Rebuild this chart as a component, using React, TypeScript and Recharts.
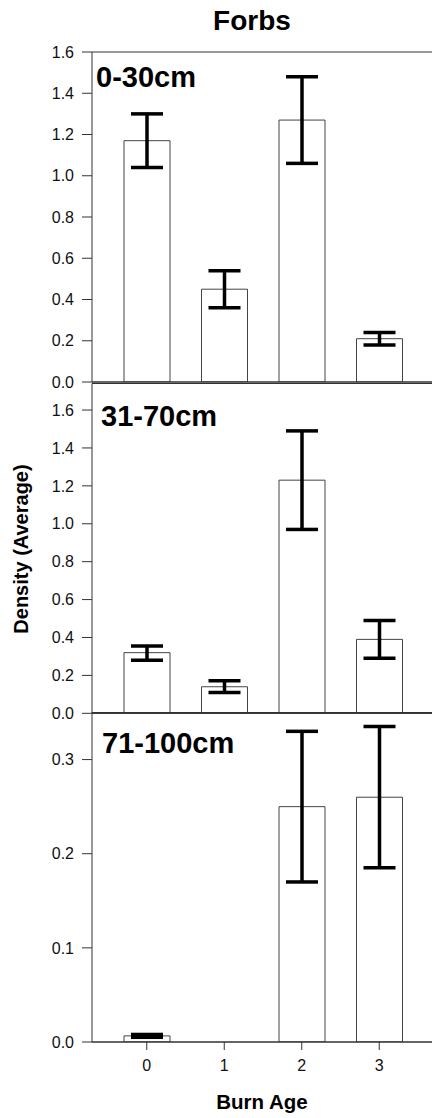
import { BarChart, Bar, XAxis, YAxis, ErrorBar, ReferenceLine } from 'recharts'

const AGES = ['0', '1', '2', '3']

// mean density per burn age, and error as [minus, plus]
const SHALLOW = [1.17, 0.45, 1.27, 0.21]
const SHALLOW_ERR: [number, number][] = [[0.13, 0.13], [0.09, 0.09], [0.21, 0.21], [0.03, 0.03]]

const MID = [0.32, 0.14, 1.23, 0.39]
const MID_ERR: [number, number][] = [[0.04, 0.035], [0.03, 0.032], [0.26, 0.26], [0.1, 0.1]]

const DEEP = [0.0065, 0, 0.25, 0.26]
const DEEP_ERR: [number, number][] = [[0.0015, 0.0015], [0, 0], [0.08, 0.08], [0.075, 0.075]]

const TICKS_16 = [0, 0.2, 0.4, 0.6, 0.8, 1.0, 1.2, 1.4, 1.6]
const TICKS_03 = [0, 0.1, 0.2, 0.3]

const FONT = '"Liberation Sans", Arial, sans-serif'
const AXIS = '#333'
const tickStyle = { fill: '#111', fontSize: 16, fontFamily: FONT }

interface PanelProps {
  values: number[]
  errors: [number, number][]
  yMax: number
  ticks: number[]
  top: number
  height: number
  margin: { top: number; bottom: number }
  showX?: boolean
}

function Panel({ values, errors, yMax, ticks, top, height, margin, showX }: PanelProps) {
  const data = AGES.map((age, i) => ({ age, value: values[i], err: errors[i] }))
  return (
    <div style={{ position: 'absolute', left: 0, top, width: 432, height }}>
      <BarChart
        width={432}
        height={height}
        data={data}
        margin={{ top: margin.top, bottom: margin.bottom, left: 0, right: 0 }}
        barSize={46}
        style={{ overflow: 'visible' }}
      >
        <XAxis
          dataKey="age"
          padding={{ left: 16, right: 14 }}
          axisLine={{ stroke: AXIS }}
          tickLine={showX ? { stroke: AXIS } : false}
          tick={showX ? tickStyle : false}
          tickSize={8}
          tickMargin={10}
          height={showX ? 76 : 1}
          label={showX ? {
            value: 'Burn Age', position: 'insideBottom', offset: 9,
            style: { fontSize: 20.5, fontWeight: 700, fontFamily: FONT, fill: '#000' },
          } : undefined}
        />
        <YAxis
          width={92}
          domain={[0, yMax]}
          ticks={ticks}
          interval={0}
          tickFormatter={v => v.toFixed(1)}
          tick={tickStyle}
          tickSize={10}
          tickMargin={8}
          axisLine={{ stroke: AXIS }}
          tickLine={{ stroke: AXIS }}
          allowDataOverflow
        />
        <ReferenceLine y={yMax} stroke={AXIS} />
        <ReferenceLine y={0} stroke={AXIS} />
        <Bar dataKey="value" fill="#fff" stroke="#444" strokeWidth={1} isAnimationActive={false}>
          <ErrorBar dataKey="err" width={16} stroke="#000" strokeWidth={3.5} direction="y" />
        </Bar>
      </BarChart>
    </div>
  )
}

const depthLabel = { position: 'absolute' as const, fontFamily: FONT, fontWeight: 700, fontSize: 29, lineHeight: '32px', color: '#000' }

export default function App() {
  return (
    <div style={{ position: 'absolute', left: 0, top: 0, width: 432, height: 1118, background: '#fff', overflow: 'hidden' }}>
      <div style={{ position: 'absolute', left: 82, width: 340, top: 5, textAlign: 'center', fontFamily: FONT, fontWeight: 700, fontSize: 28, lineHeight: '32px' }}>
        Forbs
      </div>
      <Panel values={SHALLOW} errors={SHALLOW_ERR} yMax={1.6} ticks={TICKS_16} top={0} height={400} margin={{ top: 52, bottom: 17 }} />
      <Panel values={MID} errors={MID_ERR} yMax={1.74} ticks={TICKS_16} top={360} height={370} margin={{ top: 23.5, bottom: 15.7 }} />
      <Panel values={DEEP} errors={DEEP_ERR} yMax={0.35} ticks={TICKS_03} top={700} height={418} margin={{ top: 12.5, bottom: 0 }} showX />
      <div style={{ ...depthLabel, left: 96, top: 61 }}>0-30cm</div>
      <div style={{ ...depthLabel, left: 101, top: 400 }}>31-70cm</div>
      <div style={{ ...depthLabel, left: 102, top: 727 }}>71-100cm</div>
      <div style={{
        position: 'absolute', left: 21, top: 549, transform: 'translate(-50%, -50%) rotate(-90deg)',
        whiteSpace: 'nowrap', fontFamily: FONT, fontWeight: 700, fontSize: 20, color: '#000',
      }}>
        Density (Average)
      </div>
    </div>
  )
}
